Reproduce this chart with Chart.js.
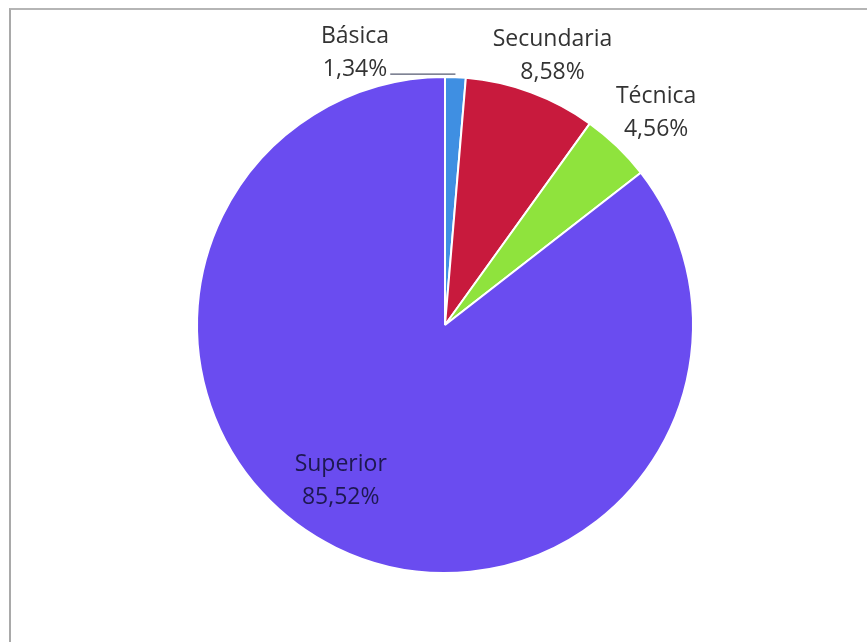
<!DOCTYPE html>
<html>
<head>
<meta charset="utf-8">
<script src="https://cdn.jsdelivr.net/npm/chart.js@4.4.1/dist/chart.umd.min.js"></script>
<style>
  html, body { margin: 0; padding: 0; background: #ffffff; }
  #wrap { position: relative; width: 867px; height: 642px; overflow: hidden; }
  #frame {
    position: absolute; left: 9px; top: 8px; width: 900px; height: 700px;
    border-left: 2px solid #a9a9a9; border-top: 2px solid #b5b5b5;
    box-sizing: border-box;
  }
  canvas { position: absolute; left: 0; top: 0; }
</style>
</head>
<body>
<div id="wrap">
  <div id="frame"></div>
  <canvas id="chart" width="867" height="642"></canvas>
</div>
<script>
// Nivel educativo: categorías y porcentajes
const categories = ['Básica', 'Secundaria', 'Técnica', 'Superior'];
const percentages = [1.34, 8.58, 4.56, 85.52];
const sliceColors = ['#3f8fe2', '#c81a3d', '#8fe33d', '#6a4cf0'];

// Label placement around each slice: distance as a fraction of the radius,
// angular shift in degrees, and the text colour.
const labelRadius = [1.132, 1.144, 1.189, 0.777];
const labelShift = [-21.1, 2.0, 1.8, 6.7];
const labelColors = ['#333333', '#333333', '#333333', '#1d1850'];

const fmt = v => v.toFixed(2).replace('.', ',') + '%';

const sliceLabels = {
  id: 'sliceLabels',
  afterDatasetsDraw(chart) {
    const ctx = chart.ctx;
    const arcs = chart.getDatasetMeta(0).data;
    ctx.save();
    ctx.font = '23px "Open Sans", "Liberation Sans", sans-serif';
    ctx.textAlign = 'center';
    ctx.textBaseline = 'alphabetic';
    arcs.forEach((arc, i) => {
      const mid = (arc.startAngle + arc.endAngle) / 2;
      const a = mid + labelShift[i] * Math.PI / 180;
      const r = arc.outerRadius * labelRadius[i];
      const cx = arc.x + Math.cos(a) * r;
      const cy = arc.y + Math.sin(a) * r;
      ctx.fillStyle = labelColors[i];
      ctx.fillText(categories[i], cx, cy - 16);
      ctx.fillText(fmt(percentages[i]), cx, cy + 17);
      if (i === 0) {
        // leader line from the value text to the thin slice
        const w = ctx.measureText(fmt(percentages[i])).width;
        const px = arc.x + Math.cos(mid) * arc.outerRadius;
        const py = arc.y + Math.sin(mid) * arc.outerRadius;
        ctx.strokeStyle = '#555a70';
        ctx.lineWidth = 1.3;
        ctx.beginPath();
        ctx.moveTo(cx + w / 2 + 3, py - 3);
        ctx.lineTo(px, py - 3);
        ctx.stroke();
      }
    });
    ctx.restore();
  }
};

new Chart(document.getElementById('chart'), {
  type: 'pie',
  data: {
    labels: categories,
    datasets: [{
      data: percentages,
      backgroundColor: sliceColors,
      borderColor: '#ffffff',
      borderWidth: 2
    }]
  },
  options: {
    responsive: false,
    animation: false,
    layout: { padding: { left: 196, right: 173, top: 76, bottom: 68 } },
    plugins: {
      legend: { display: false },
      tooltip: { enabled: false }
    }
  },
  plugins: [sliceLabels]
});
</script>
</body>
</html>
